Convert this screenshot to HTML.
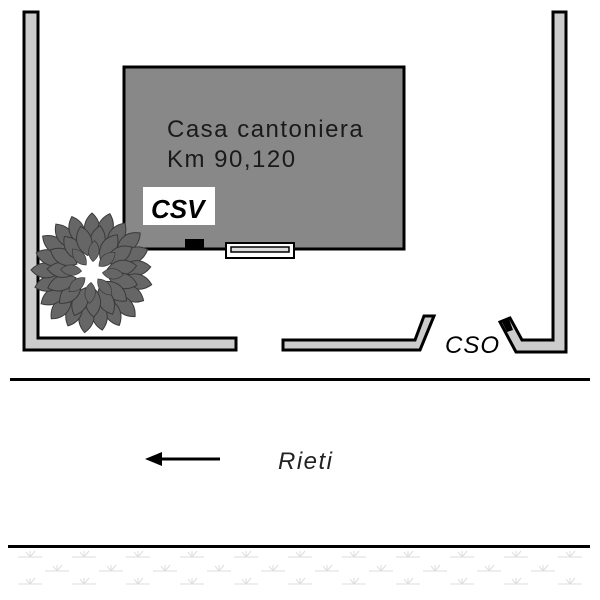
<!DOCTYPE html>
<html><head><meta charset="utf-8"><style>body{margin:0;background:#fff}svg{display:block}</style></head>
<body>
<svg width="600" height="600" viewBox="0 0 600 600" xmlns="http://www.w3.org/2000/svg">
<defs>
<g id="lf"><path d="M0,-15 C10,-6 10,6 0,15 C-10,6 -10,-6 0,-15Z" fill="#666" stroke="#3a3a3a" stroke-width="1"/></g>
<g id="gr" stroke="#ddd" stroke-width="1" fill="none"><path d="M-12,0 H12 M0,0 V-6 M0,0 L5,-6 M0,0 L-4,-5"/></g>
</defs>
<!-- walls -->
<polygon points="24,12 38,12 38,338 236,338 236,350 24,350" fill="#ccc" stroke="#000" stroke-width="3"/>
<polygon points="553,12 566,12 566,352 516,352 500,322 510,318 522,340 553,340" fill="#ccc" stroke="#000" stroke-width="3"/>
<polygon points="283,340 415,340 424,316 434,316 420,350 283,350" fill="#ccc" stroke="#000" stroke-width="3"/>
<polygon points="502,322 509,319 513,330 507,332" fill="#000"/>
<!-- house -->
<rect x="124" y="67" width="280" height="182" fill="#888" stroke="#000" stroke-width="3"/>
<text x="167" y="137" font-family="Liberation Sans, sans-serif" font-size="24" letter-spacing="1.5" fill="#1a1a1a">Casa cantoniera</text>
<text x="167" y="167" font-family="Liberation Sans, sans-serif" font-size="24" letter-spacing="1.5" fill="#1a1a1a">Km 90,120</text>
<rect x="143" y="187" width="72" height="38" fill="#fff"/>
<text x="151" y="218" font-family="Liberation Sans, sans-serif" font-size="26" font-weight="bold" font-style="italic" fill="#000">CSV</text>
<rect x="185" y="239" width="19" height="9" fill="#000"/>
<rect x="226" y="243" width="68" height="15" fill="#fff" stroke="#000" stroke-width="2"/>
<rect x="231" y="247" width="58" height="5" fill="#ddd" stroke="#000" stroke-width="1.5"/>
<!-- tree -->
<g transform="translate(92,272)">
<g>
<use href="#lf" transform="rotate(0) translate(0,-44)"/><use href="#lf" transform="rotate(17) translate(0,-46)"/><use href="#lf" transform="rotate(34) translate(0,-44)"/><use href="#lf" transform="rotate(51) translate(0,-47)"/><use href="#lf" transform="rotate(68) translate(0,-45)"/><use href="#lf" transform="rotate(85) translate(0,-44)"/><use href="#lf" transform="rotate(102) translate(0,-46)"/><use href="#lf" transform="rotate(119) translate(0,-44)"/><use href="#lf" transform="rotate(136) translate(0,-47)"/><use href="#lf" transform="rotate(153) translate(0,-45)"/><use href="#lf" transform="rotate(170) translate(0,-44)"/><use href="#lf" transform="rotate(187) translate(0,-46)"/><use href="#lf" transform="rotate(204) translate(0,-44)"/><use href="#lf" transform="rotate(221) translate(0,-47)"/><use href="#lf" transform="rotate(238) translate(0,-45)"/><use href="#lf" transform="rotate(255) translate(0,-44)"/><use href="#lf" transform="rotate(272) translate(0,-46)"/><use href="#lf" transform="rotate(289) translate(0,-44)"/><use href="#lf" transform="rotate(306) translate(0,-46)"/><use href="#lf" transform="rotate(323) translate(0,-45)"/><use href="#lf" transform="rotate(340) translate(0,-44)"/>
</g>
<g transform="rotate(10)">
<use href="#lf" transform="rotate(0) translate(0,-32)"/><use href="#lf" transform="rotate(24) translate(0,-30)"/><use href="#lf" transform="rotate(48) translate(0,-32)"/><use href="#lf" transform="rotate(72) translate(0,-30)"/><use href="#lf" transform="rotate(96) translate(0,-32)"/><use href="#lf" transform="rotate(120) translate(0,-30)"/><use href="#lf" transform="rotate(144) translate(0,-32)"/><use href="#lf" transform="rotate(168) translate(0,-30)"/><use href="#lf" transform="rotate(192) translate(0,-32)"/><use href="#lf" transform="rotate(216) translate(0,-30)"/><use href="#lf" transform="rotate(240) translate(0,-32)"/><use href="#lf" transform="rotate(264) translate(0,-30)"/><use href="#lf" transform="rotate(288) translate(0,-32)"/><use href="#lf" transform="rotate(312) translate(0,-30)"/><use href="#lf" transform="rotate(336) translate(0,-32)"/>
</g>
<g transform="rotate(5) scale(0.7)">
<use href="#lf" transform="rotate(0) translate(0,-30)"/><use href="#lf" transform="rotate(45) translate(0,-28)"/><use href="#lf" transform="rotate(90) translate(0,-30)"/><use href="#lf" transform="rotate(135) translate(0,-28)"/><use href="#lf" transform="rotate(180) translate(0,-30)"/><use href="#lf" transform="rotate(225) translate(0,-28)"/><use href="#lf" transform="rotate(270) translate(0,-30)"/><use href="#lf" transform="rotate(315) translate(0,-28)"/>
</g>
</g>
<text x="445" y="353" font-family="Liberation Sans, sans-serif" font-size="24" letter-spacing="1" font-style="italic" fill="#000">CSO</text>
<!-- road -->
<rect x="10" y="378" width="580" height="3" fill="#000"/>
<line x1="220" y1="459" x2="158" y2="459" stroke="#000" stroke-width="3"/>
<polygon points="145,459 162,452 162,466" fill="#000"/>
<text x="278" y="469" font-family="Liberation Sans, sans-serif" font-size="24" letter-spacing="1.5" font-style="italic" fill="#222">Rieti</text>
<rect x="8" y="545" width="582" height="3" fill="#000"/>
<g>
<use href="#gr" x="30" y="557"/><use href="#gr" x="84" y="557"/><use href="#gr" x="138" y="557"/><use href="#gr" x="192" y="557"/><use href="#gr" x="246" y="557"/><use href="#gr" x="300" y="557"/><use href="#gr" x="354" y="557"/><use href="#gr" x="408" y="557"/><use href="#gr" x="462" y="557"/><use href="#gr" x="516" y="557"/><use href="#gr" x="570" y="557"/>
<use href="#gr" x="57" y="571"/><use href="#gr" x="111" y="571"/><use href="#gr" x="165" y="571"/><use href="#gr" x="219" y="571"/><use href="#gr" x="273" y="571"/><use href="#gr" x="327" y="571"/><use href="#gr" x="381" y="571"/><use href="#gr" x="435" y="571"/><use href="#gr" x="489" y="571"/><use href="#gr" x="543" y="571"/>
<use href="#gr" x="30" y="584"/><use href="#gr" x="84" y="584"/><use href="#gr" x="138" y="584"/><use href="#gr" x="192" y="584"/><use href="#gr" x="246" y="584"/><use href="#gr" x="300" y="584"/><use href="#gr" x="354" y="584"/><use href="#gr" x="408" y="584"/><use href="#gr" x="462" y="584"/><use href="#gr" x="516" y="584"/><use href="#gr" x="570" y="584"/>
</g>
</svg>
</body></html>
